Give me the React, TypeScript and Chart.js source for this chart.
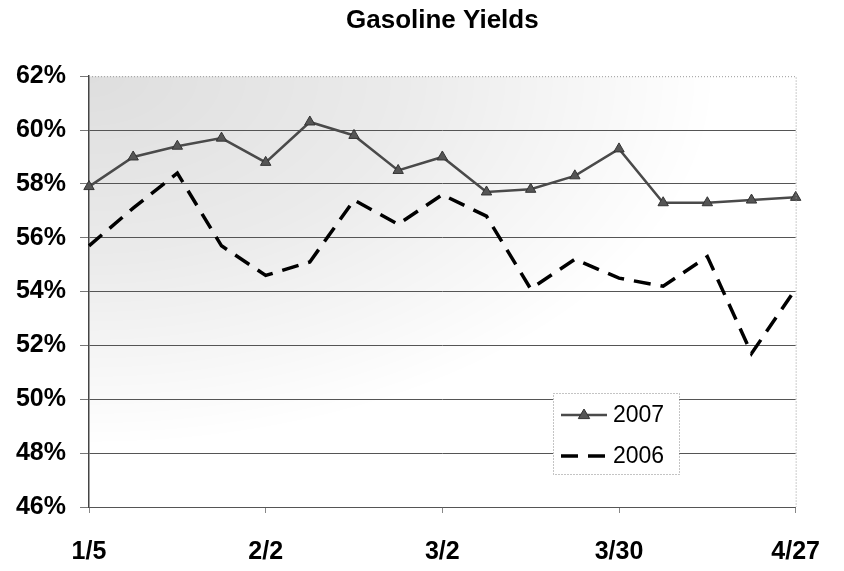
import React, { useEffect, useRef } from "react";
import { Chart, registerables } from "chart.js";

Chart.register(...registerables);

const weeks = ["1/5", "1/12", "1/19", "1/26", "2/2", "2/9", "2/16", "2/23", "3/2", "3/9", "3/16", "3/23", "3/30", "4/6", "4/13", "4/20", "4/27"];
const labeledWeeks = ["1/5", "2/2", "3/2", "3/30", "4/27"];
const yields2007 = [57.9, 59.0, 59.4, 59.7, 58.8, 60.3, 59.8, 58.5, 59.0, 57.7, 57.8, 58.3, 59.3, 57.3, 57.3, 57.4, 57.5];
const yields2006 = [55.7, 57.1, 58.4, 55.7, 54.6, 55.1, 57.4, 56.5, 57.6, 56.8, 54.1, 55.2, 54.5, 54.2, 55.3, 51.7, 54.1];
const yTicks = [46, 48, 50, 52, 54, 56, 58, 60, 62];

const FONT = "'Liberation Sans', Arial, sans-serif";

function triangle(ctx: CanvasRenderingContext2D, x: number, y: number, r: number, fill: string, stroke: string) {
  ctx.save();
  ctx.beginPath();
  ctx.moveTo(x, y - r);
  ctx.lineTo(x + r * 0.95, y + r * 0.6);
  ctx.lineTo(x - r * 0.95, y + r * 0.6);
  ctx.closePath();
  ctx.fillStyle = fill;
  ctx.fill();
  ctx.strokeStyle = stroke;
  ctx.lineWidth = 1;
  ctx.stroke();
  ctx.restore();
}

const backgroundPlugin = {
  id: "stippleBg",
  beforeDraw(chart: any) {
    const { ctx, chartArea } = chart;
    const { left, top, right, bottom } = chartArea;
    ctx.save();
    ctx.beginPath();
    ctx.rect(left, top, right - left, bottom - top);
    ctx.clip();
    ctx.translate(left, top);
    ctx.scale(1.7, 1);
    const g = ctx.createRadialGradient(0, 0, 0, 0, 0, 370);
    g.addColorStop(0, "rgba(0,0,0,0.13)");
    g.addColorStop(0.5, "rgba(0,0,0,0.08)");
    g.addColorStop(0.8, "rgba(0,0,0,0.03)");
    g.addColorStop(1, "rgba(0,0,0,0)");
    ctx.fillStyle = g;
    ctx.fillRect(0, 0, 800, 500);
    ctx.restore();
  },
  afterDraw(chart: any) {
    const { ctx, chartArea } = chart;
    const { left, top, right, bottom } = chartArea;
    ctx.save();
    ctx.strokeStyle = "#999";
    ctx.lineWidth = 1;
    ctx.setLineDash([1, 2]);
    ctx.beginPath();
    ctx.moveTo(left, top + 0.5);
    ctx.lineTo(right + 0.5, top + 0.5);
    ctx.lineTo(right + 0.5, bottom);
    ctx.stroke();
    ctx.restore();
  },
};

const legendPlugin = {
  id: "boxLegend",
  afterDraw(chart: any) {
    const ctx: CanvasRenderingContext2D = chart.ctx;
    const x0 = 553, y0 = 393, w = 126, h = 81;
    ctx.save();
    ctx.fillStyle = "#fff";
    ctx.fillRect(x0, y0, w, h);
    ctx.strokeStyle = "#888";
    ctx.lineWidth = 1;
    ctx.setLineDash([1, 2]);
    ctx.strokeRect(x0 + 0.5, y0 + 0.5, w, h);
    ctx.setLineDash([]);
    const rows = [y0 + 22, y0 + 63];
    chart.data.datasets.forEach((ds: any, i: number) => {
      const y = rows[i];
      ctx.save();
      ctx.strokeStyle = ds.borderColor;
      ctx.lineWidth = ds.borderWidth;
      ctx.setLineDash(ds.borderDash || []);
      ctx.beginPath();
      ctx.moveTo(x0 + 8, y);
      ctx.lineTo(x0 + 54, y);
      ctx.stroke();
      ctx.restore();
      if (ds.pointRadius > 0) triangle(ctx, x0 + 31, y, ds.pointRadius, ds.pointBackgroundColor, ds.pointBorderColor);
      ctx.fillStyle = "#000";
      ctx.font = `23px ${FONT}`;
      ctx.textBaseline = "middle";
      ctx.textAlign = "left";
      ctx.fillText(ds.label, x0 + 60, y + 1);
    });
    ctx.restore();
  },
};

export default function App() {
  const ref = useRef<HTMLCanvasElement>(null);
  useEffect(() => {
    document.body.style.margin = "0";
    const canvas = ref.current!;
    const chart = new Chart(canvas, {
      type: "line",
      data: {
        labels: weeks,
        datasets: [
          {
            label: "2007",
            data: yields2007,
            borderColor: "#4a4a4a",
            borderWidth: 2.5,
            pointStyle: "triangle",
            pointRadius: 6,
            pointBackgroundColor: "#555",
            pointBorderColor: "#333",
            pointBorderWidth: 1,
            tension: 0,
          },
          {
            label: "2006",
            data: yields2006,
            borderColor: "#000",
            borderWidth: 3.5,
            borderDash: [17, 10],
            pointRadius: 0,
            tension: 0,
          },
        ],
      },
      options: {
        responsive: false,
        animation: false,
        layout: { padding: { left: 0, right: 30, top: 0, bottom: 0 } },
        plugins: {
          legend: { display: false },
          tooltip: { enabled: false },
          title: {
            display: true,
            fullSize: false,
            text: "Gasoline Yields",
            color: "#000",
            font: { family: FONT, size: 26, weight: "bold" },
            padding: { top: 5, bottom: 40 },
          },
        },
        scales: {
          x: {
            type: "category",
            offset: false,
            grid: {
              drawOnChartArea: false,
              tickLength: 6,
              tickColor: (c: any) => (labeledWeeks.includes(weeks[c.index]) ? "#888" : "transparent"),
            },
            border: { display: false },
            ticks: {
              autoSkip: false,
              maxRotation: 0,
              padding: 24,
              color: "#000",
              font: { family: FONT, size: 25, weight: "bold" },
              callback: (_v: any, i: number) => (labeledWeeks.includes(weeks[i]) ? weeks[i] : ""),
            },
            afterFit: (s: any) => {
              s.height = 64;
            },
          },
          y: {
            min: 46,
            max: 62,
            afterBuildTicks: (s: any) => {
              s.ticks = yTicks.map((v) => ({ value: v }));
            },
            grid: {
              color: (c: any) => (c.tick && c.tick.value === 62 ? "transparent" : "#555"),
              tickColor: "#777",
              tickLength: 9,
              lineWidth: 1,
            },
            border: { display: true, color: "#444", width: 1.5 },
            ticks: {
              padding: 14,
              color: "#000",
              font: { family: FONT, size: 25, weight: "bold" },
              callback: (v: any) => `${v}%`,
            },
            afterFit: (s: any) => {
              s.width = 89;
            },
          },
        },
      },
      plugins: [backgroundPlugin, legendPlugin],
    });
    return () => chart.destroy();
  }, []);
  return <canvas ref={ref} width={844} height={571} style={{ display: "block" }} />;
}
